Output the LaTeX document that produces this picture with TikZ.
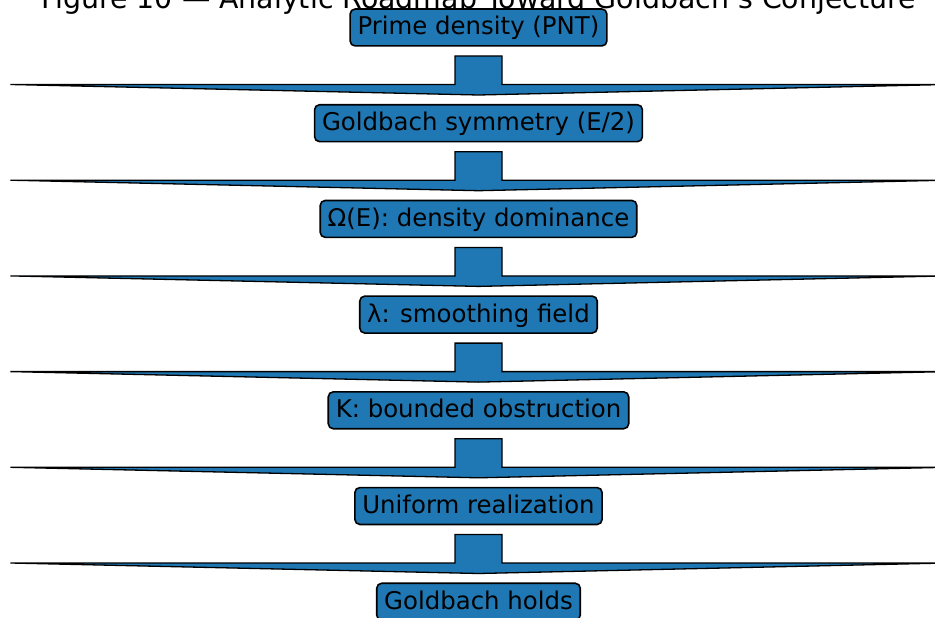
\documentclass[tikz,border=0pt]{standalone}
\usepackage{fontspec}
\setmainfont{DejaVu Sans}
\usetikzlibrary{calc}
\definecolor{mplblue}{HTML}{1F77B4}
\tikzset{
  stagebox/.style={draw=black, line width=1.6pt, fill=mplblue, rounded corners=5pt,
    font=\fontsize{24.4}{28}\selectfont, text=black, inner xsep=7.5pt, inner ysep=6.6pt,
    text height=19.3pt, text depth=4.4pt},
  flowarrow/.style={draw=black, line width=1.3pt, fill=mplblue, line join=miter},
  titletext/.style={font=\fontsize{28.4}{32}\selectfont, text=black, inner sep=0pt, anchor=base}
}
\begin{document}
\begin{tikzpicture}[x=1pt, y=-1pt]
\useasboundingbox (0,0) rectangle (935,618);
\clip (0,0) rectangle (935,618);
\node[titletext] (title) at (478.5,8.5) {Figure 10 — Analytic Roadmap Toward Goldbach's Conjecture};
\foreach \i/\t in {0/{Prime density (PNT)}, 1/{Goldbach symmetry (E/2)}, 2/{Ω(E): density dominance}, 3/{λ: smoothing field}, 4/{K: bounded obstruction}, 5/{Uniform realization}, 6/{Goldbach holds}} {
  \node[stagebox] (b\i) at (478.5, 27.5+95.7*\i) {\t};
}
\foreach \i in {0,...,5} {
  \draw[flowarrow] ($(b\i.center)+(-23.5,28.5)$) -- ++(47,0) -- ++(0,28.5) -- ++(444.5,0)
    -- ($(b\i.center)+(0,67.5)$) -- ++(-468,-10.5) -- ++(444.5,0) -- cycle;
}
\end{tikzpicture}
\end{document}
